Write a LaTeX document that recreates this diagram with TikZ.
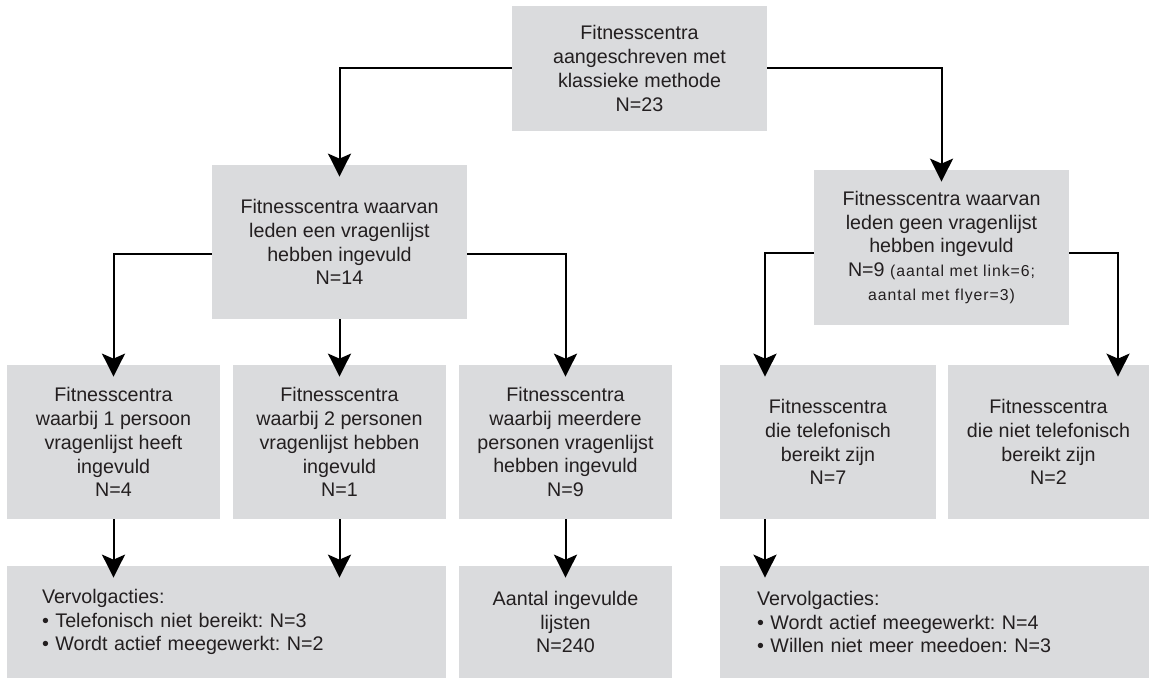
\documentclass[tikz,border=0pt]{standalone}
\usepackage{fontspec}
\setmainfont{Liberation Sans}
\newfontfamily\kleinletter[LetterSpace=6]{Liberation Sans}
\usepackage{tikz}
\usepackage{xcolor}
\usetikzlibrary{arrows.meta}
\frenchspacing
\definecolor{vakgrijs}{RGB}{218,219,221}
\definecolor{tekst}{RGB}{35,31,32}
\tikzstyle{vak} = [rectangle, fill=vakgrijs, text=tekst, inner sep=0pt, align=center, font=\fontsize{11.2}{13.6}\selectfont]
\tikzstyle{pijl} = [line width=0.04cm, -{Stealth[length=0.46cm, width=0.46cm, inset=0.1cm]}, shorten >=-0.24cm]
\newcommand{\klein}[1]{{\kleinletter\fontsize{9}{12}\selectfont #1}}

\begin{document}
\begin{tikzpicture}
\useasboundingbox (0,0) rectangle (22.98,13.58);
			\tikzset{every node/.style={vak}}
\node[minimum width=5.1cm, minimum height=2.5cm] (topvak) at (12.79,12.21) {Fitnesscentra\\aangeschreven met\\klassieke methode\\N=23};
\node[minimum width=5.1cm, minimum height=3.08cm] (welvak) at (6.79,8.74) {Fitnesscentra waarvan\\leden een vragenlijst\\hebben ingevuld\\N=14};
\node[minimum width=5.1cm, minimum height=3.1cm] (geenvak) at (18.83,8.63) {Fitnesscentra waarvan\\leden geen vragenlijst\\hebben ingevuld\\N=9 \klein{(aantal met link=6;}\\\klein{aantal met flyer=3)}};

\node[minimum width=4.26cm, minimum height=3.08cm] (eenpers) at (2.27,4.74) {Fitnesscentra\\waarbij 1 persoon\\vragenlijst heeft\\ingevuld\\N=4};
\node[minimum width=4.26cm, minimum height=3.08cm] (tweepers) at (6.79,4.74) {Fitnesscentra\\waarbij 2 personen\\vragenlijst hebben\\ingevuld\\N=1};
\node[minimum width=4.26cm, minimum height=3.08cm] (meerpers) at (11.31,4.74) {Fitnesscentra\\waarbij meerdere\\personen vragenlijst\\hebben ingevuld\\N=9};
\node[minimum width=4.32cm, minimum height=3.08cm] (bereikt) at (16.56,4.74) {Fitnesscentra\\die telefonisch\\bereikt zijn\\N=7};
\node[minimum width=4.02cm, minimum height=3.08cm] (nietbereikt) at (20.97,4.74) {Fitnesscentra\\die niet telefonisch\\bereikt zijn\\N=2};

\node[minimum height=2.24cm, inner xsep=0.7cm, text width=7.38cm, align=left] (vervolgwel) at (4.53,1.14) {Vervolgacties:\\• Telefonisch niet bereikt: N=3\\• Wordt actief meegewerkt: N=2};
\node[minimum width=4.26cm, minimum height=2.24cm] (lijsten) at (11.31,1.14) {Aantal ingevulde\\lijsten\\N=240};
\node[minimum height=2.24cm, inner xsep=0.74cm, text width=7.1cm, align=left] (vervolggeen) at (18.69,1.14) {Vervolgacties:\\• Wordt actief meegewerkt: N=4\\• Willen niet meer meedoen: N=3};

% van boven naar de tweede rij
\draw[pijl] (topvak.west) -| (welvak.north);
\draw[pijl] (topvak.east) -| (geenvak.north);

% van de tweede rij naar de derde rij
\draw[pijl] ([yshift=-0.24cm]welvak.west) -| (eenpers.north);
\draw[pijl] ([yshift=-0.24cm]welvak.east) -| (meerpers.north);
\draw[pijl] ([yshift=-0.11cm]geenvak.west) -| ([xshift=-1.26cm]bereikt.north);
\draw[pijl] ([yshift=-0.11cm]geenvak.east) -| ([xshift=1.39cm]nietbereikt.north);

\foreach \from/\to in {welvak/tweepers,eenpers/vervolgwel,tweepers/vervolgwel,meerpers/lijsten}
{
	\draw[pijl] (\from.south) -- (\from.south |- \to.north);
}
\draw[pijl] ([xshift=-1.26cm]bereikt.south) -- ([xshift=-1.26cm]bereikt.south |- vervolggeen.north);

		\end{tikzpicture}
\end{document}
